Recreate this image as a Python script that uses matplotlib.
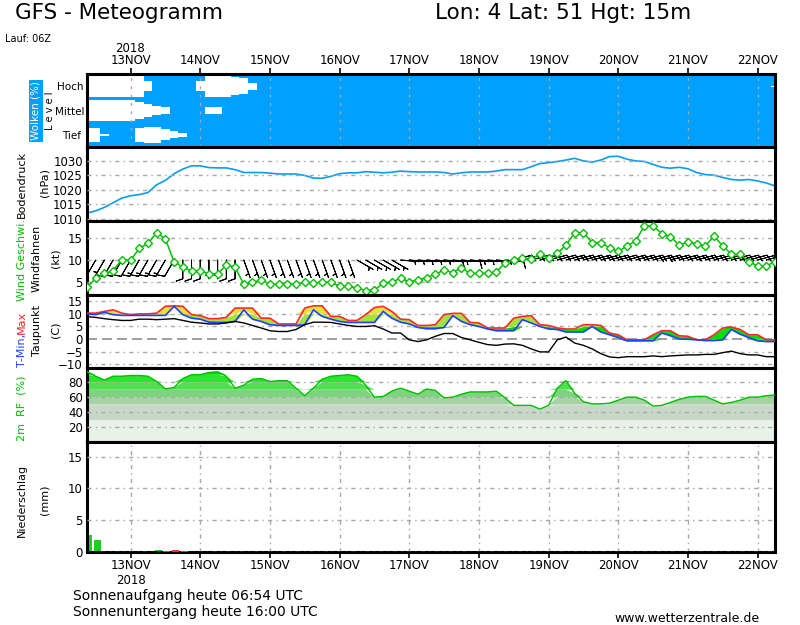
import numpy as np
import matplotlib
matplotlib.use('Agg')
import matplotlib.pyplot as plt

plt.rcParams['font.family'] = ['DejaVu Sans']

# ---------------- data ----------------
# forecast hours since run start (12 Nov 2018 06Z), 3-hourly
forecast_hours = np.arange(3, 243, 3)
day_hours = [18, 42, 66, 90, 114, 138, 162, 186, 210, 234]
day_labels = ['13NOV', '14NOV', '15NOV', '16NOV', '17NOV',
              '18NOV', '19NOV', '20NOV', '21NOV', '22NOV']

cloud_high = [90, 90, 90, 90, 90, 85, 90, 40, 0, 0, 0, 0, 0, 40, 90, 90, 90, 75, 65, 30] + [0] * 59 + [5]
cloud_mid = [85, 85, 85, 88, 90, 88, 70, 50, 35, 30, 0, 0, 0, 0, 25, 25] + [0] * 64
cloud_low = [55, 55, 10, 0, 0, 0, 60, 65, 65, 45, 30, 15] + [0] * 68

pressure = [1012.0, 1012.8, 1014.0, 1015.6, 1017.2, 1018.0, 1018.4, 1019.1, 1021.8, 1023.3,
            1025.6, 1027.2, 1028.3, 1028.3, 1027.7, 1027.6, 1027.6, 1027.0, 1026.0, 1026.0,
            1026.0, 1025.8, 1025.5, 1025.5, 1025.5, 1025.0, 1024.1, 1024.0, 1024.7, 1025.6,
            1025.9, 1025.9, 1026.3, 1026.1, 1025.9, 1026.1, 1026.5, 1026.3, 1026.2, 1026.2,
            1026.2, 1026.0, 1025.5, 1025.9, 1026.2, 1026.2, 1026.2, 1026.5, 1027.0, 1027.0,
            1027.0, 1028.0, 1029.1, 1029.4, 1029.8, 1030.3, 1030.9, 1030.0, 1029.6, 1030.3,
            1031.5, 1031.6, 1030.6, 1030.0, 1029.8, 1028.8, 1027.8, 1027.5, 1027.8, 1027.3,
            1026.0, 1025.3, 1025.1, 1024.3, 1023.6, 1023.4, 1023.6, 1023.1, 1022.4, 1021.4]

wind_speed = [3.9, 5.9, 7.0, 7.6, 10.1, 9.9, 12.6, 13.7, 16.1, 14.7,
              9.6, 8.4, 7.6, 7.6, 6.9, 6.9, 8.9, 8.4, 4.6, 5.0,
              5.6, 4.6, 4.6, 4.6, 4.6, 5.0, 4.8, 5.1, 5.0, 4.2,
              4.1, 3.8, 3.2, 3.3, 4.8, 5.1, 5.9, 5.2, 5.5, 6.1,
              6.8, 7.8, 7.2, 8.3, 7.0, 7.0, 7.0, 7.4, 9.3, 10.1,
              10.4, 10.2, 11.3, 10.5, 11.5, 13.3, 16.1, 16.1, 13.9, 13.9,
              12.7, 11.9, 13.1, 14.3, 17.6, 17.6, 15.9, 15.2, 13.3, 14.1,
              13.6, 13.1, 15.4, 13.1, 11.3, 11.3, 9.6, 8.7, 8.7, 9.6]
wind_dir = [210] * 11 + [180] * 7 + [160] * 13 + [120] * 5 + [95] * 13 + [75] * 31

t_max = [10.3, 10.3, 11.0, 11.6, 10.3, 9.7, 10.0, 10.0, 10.3, 13.0,
         13.2, 13.0, 9.7, 9.3, 8.1, 8.1, 8.6, 12.3, 12.3, 12.3,
         8.3, 8.3, 6.0, 6.0, 6.0, 12.3, 13.2, 13.2, 9.0, 9.0,
         7.4, 7.4, 9.7, 12.5, 13.0, 11.0, 7.9, 7.7, 5.4, 5.4,
         5.7, 9.7, 10.2, 10.2, 6.6, 6.4, 4.4, 4.4, 4.4, 8.3,
         9.0, 9.3, 5.7, 5.4, 4.4, 4.0, 4.0, 5.7, 5.7, 5.4,
         2.4, 1.7, -0.3, -0.3, -0.3, 1.7, 3.3, 3.3, 1.3, 1.1,
         -0.3, -0.3, 1.7, 4.4, 4.8, 3.8, 1.7, 1.7, -0.3, -0.3]
t_min = [10.0, 9.7, 10.6, 9.7, 9.4, 9.4, 9.4, 9.4, 9.4, 9.4,
         13.0, 9.7, 8.3, 7.9, 6.7, 6.6, 6.6, 7.0, 11.6, 7.9,
         7.0, 5.7, 5.4, 5.4, 5.4, 5.7, 11.6, 9.0, 7.9, 7.0,
         6.6, 6.6, 6.6, 6.6, 11.0, 8.3, 6.7, 6.0, 4.6, 4.1,
         4.1, 4.6, 9.3, 7.0, 5.7, 5.0, 4.0, 3.3, 3.3, 3.3,
         7.7, 6.4, 5.0, 4.0, 3.8, 2.8, 2.8, 2.8, 5.0, 2.8,
         1.7, 0.6, -0.7, -0.7, -0.7, -0.7, 2.4, 1.3, 0.0, -0.1,
         -0.3, -0.6, -0.6, -0.3, 3.8, 1.9, 0.6, -0.7, -1.0, -1.0]
dew_point = [8.9, 8.6, 8.1, 7.7, 7.4, 7.4, 7.9, 7.9, 7.7, 7.9,
             8.1, 7.4, 6.7, 6.4, 6.0, 6.0, 6.4, 7.0, 6.4, 5.4,
             4.4, 3.3, 3.0, 3.0, 3.8, 5.7, 6.7, 6.7, 6.6, 6.0,
             5.4, 5.0, 5.0, 5.3, 4.0, 2.4, 2.4, -0.3, -1.0, -0.3,
             1.1, 2.2, 2.2, 0.6, -0.3, -1.3, -2.2, -2.5, -2.0, -1.9,
             -2.5, -3.9, -5.1, -5.1, -0.3, 0.8, -1.6, -2.5, -3.9, -5.8,
             -7.1, -7.4, -7.0, -7.0, -7.0, -6.7, -7.0, -6.7, -6.5, -6.3,
             -6.3, -6.1, -6.1, -5.4, -4.8, -5.8, -6.3, -6.3, -7.0, -7.0]

rel_hum = [94, 88, 83, 88, 88, 89, 89, 88, 81, 71,
           73, 85, 90, 90, 93, 94, 88, 72, 76, 84,
           85, 81, 82, 82, 72, 62, 72, 84, 88, 89,
           90, 88, 76, 60, 61, 68, 72, 68, 64, 71,
           69, 59, 60, 64, 67, 67, 67, 68, 59, 49,
           49, 49, 44, 49, 72, 82, 65, 54, 51, 51,
           52, 56, 60, 60, 56, 48, 49, 53, 57, 60,
           61, 61, 56, 51, 53, 56, 60, 60, 62, 63]

precip_total = [2.6, 1.85, 0, 0, 0, 0, 0, 0, 0.3, 0.05, 0.3, 0.05] + [0] * 68
precip_conv = [0, 0, 0, 0, 0, 0, 0, 0, 0, 0.1, 0.3, 0.1] + [0] * 68

# ---------------- layout ----------------
W, H = 800, 625
fig = plt.figure(figsize=(W / 100, H / 100), dpi=100)
fig.patch.set_facecolor('white')

def box(top, bottom):
    return [87 / W, 1 - bottom / H, 688 / W, (bottom - top) / H]

def P(x, y):
    return x / W, 1 - y / H

ax_c = fig.add_axes(box(74, 147))
ax_p = fig.add_axes(box(147, 221))
ax_w = fig.add_axes(box(221, 295))
ax_t = fig.add_axes(box(295, 368))
ax_r = fig.add_axes(box(368, 442))
ax_n = fig.add_axes(box(442, 552))
axes = [ax_c, ax_p, ax_w, ax_t, ax_r, ax_n]

grid_kw = dict(color='#A8A8A8', linewidth=1.0, linestyle=(0, (3, 3, 1, 3)))
x = forecast_hours

for ax in axes:
    ax.set_xlim(3, 240)
    ax.set_xticks(day_hours)
    ax.tick_params(axis='both', length=0, labelsize=8.5, pad=3)
    ax.tick_params(axis='x', labelbottom=False)
    for s in ax.spines.values():
        s.set_linewidth(2.2)
        s.set_color('black')
    ax.set_axisbelow(False)

# ---- clouds ----
ax_c.set_facecolor('#00A0FF')
ax_c.set_ylim(0, 3)
ax_c.set_yticks([])
for center, cov in [(2.5, cloud_high), (1.5, cloud_mid), (0.5, cloud_low)]:
    c = np.array(cov) / 100.0 * 0.5
    ax_c.fill_between(x, center - c, center + c, step='mid', color='white', lw=0)
for h in day_hours:
    ax_c.axvline(h, color='#A8A8A8', lw=1.0, linestyle=(0, (2, 4)), zorder=3)
ax_c.xaxis.tick_top()
ax_c.tick_params(axis='x', top=True, labeltop=True, length=4, width=1.2,
                 direction='out', labelsize=8.5, pad=1)
ax_c.set_xticklabels(day_labels)

# ---- pressure ----
ax_p.set_ylim(1009.3, 1034.8)
ax_p.set_yticks([1010, 1015, 1020, 1025, 1030])
ax_p.yaxis.grid(True, **grid_kw)
ax_p.plot(x, pressure, color='#0A9CF0', lw=1.2)

# ---- wind ----
ax_w.set_ylim(2.2, 18.7)
ax_w.set_yticks([5, 10, 15])
ax_w.yaxis.grid(True, **grid_kw)
spd = np.array(wind_speed)
dr = np.deg2rad(np.array(wind_dir))
u = -spd * np.sin(dr)
v = -spd * np.cos(dr)
ax_w.barbs(x, np.full(len(x), 10.0), u, v, length=5.2, linewidth=0.7,
           color='black', sizes=dict(emptybarb=0.0, height=0.35, spacing=0.16),
           zorder=3)
ax_w.plot(x, wind_speed, color='#00C000', lw=1.1, marker='D', ms=4.5,
          mfc='white', mec='#00C000', mew=1.0, zorder=4)

# ---- temperature ----
ax_t.set_ylim(-11.5, 17.5)
ax_t.set_yticks([-10, -5, 0, 5, 10, 15])
for yv in [-10, -5, 5, 10, 15]:
    ax_t.axhline(yv, **grid_kw, zorder=0)
ax_t.axhline(0, color='#909090', lw=1.2, linestyle=(0, (6, 3)), zorder=0)
tmin = np.array(t_min)
tmax = np.array(t_max)
for lo, hi, col in [(-30, 0, '#00DD00'), (0, 5, '#00DD00'), (5, 10, '#A2E23C'), (10, 40, '#E6E23C')]:
    ax_t.fill_between(x, np.clip(tmin, lo, hi), np.clip(tmax, lo, hi), color=col, lw=0, zorder=1)
ax_t.plot(x, t_max, color='#FF2828', lw=1.2, zorder=3)
ax_t.plot(x, t_min, color='#2040FF', lw=1.2, zorder=3)
ax_t.plot(x, dew_point, color='black', lw=1.0, zorder=3)

# ---- relative humidity ----
ax_r.set_ylim(0, 99)
ax_r.set_yticks([20, 40, 60, 80])
rh = np.array(rel_hum, dtype=float)
for lo, hi, col in [(0, 30, '#E8F2E8'), (30, 50, '#C8D8C8'), (50, 60, '#A6D2A6'),
                    (60, 70, '#7ED47E'), (70, 80, '#52DE52'), (80, 90, '#2EE42E'),
                    (90, 100, '#00D800')]:
    ax_r.fill_between(x, lo, np.clip(rh, lo, hi), where=rh > lo, interpolate=True,
                      color=col, lw=0, zorder=1)
ax_r.yaxis.grid(True, **grid_kw)
ax_r.plot(x, rel_hum, color='#00C000', lw=1.0, zorder=3)

# ---- precipitation ----
ax_n.set_ylim(0, 17.3)
ax_n.set_yticks([0, 5, 10, 15])
ax_n.yaxis.grid(True, **grid_kw)
for h in day_hours:
    ax_n.axvline(h, **grid_kw, zorder=0)
bar_x = x + 0.5
ax_n.bar(bar_x, precip_total, width=2.4, color='#22CC22', zorder=2)
ax_n.bar(bar_x, precip_conv, width=2.4, color='#FF3030', zorder=3)
ax_n.tick_params(axis='x', labelbottom=True, bottom=True, length=4, width=1.2,
                 direction='out', labelsize=8.5, pad=1)
ax_n.set_xticklabels([day_labels[0] + '\n2018'] + day_labels[1:])

# ---------------- texts ----------------
fig.text(*P(15, 13), 'GFS - Meteogramm', fontsize=15.5, va='center', ha='left')
fig.text(*P(435, 13), 'Lon: 4 Lat: 51 Hgt: 15m', fontsize=15.5, va='center', ha='left')
fig.text(*P(5, 39), 'Lauf: 06Z', fontsize=7, va='center', ha='left')
fig.text(*P(130, 49), '2018', fontsize=8.5, va='center', ha='center')

fig.text(*P(36, 111), 'Wolken (%)', fontsize=7.5, rotation=90, va='center', ha='center',
         color='white', bbox=dict(facecolor='#00A0FF', edgecolor='none', pad=1.2))
fig.text(*P(50, 111), 'L e v e l', fontsize=7, rotation=90, va='center', ha='center')
fig.text(*P(84, 87), 'Hoch', fontsize=7.5, va='center', ha='right')
fig.text(*P(85, 112), 'Mittel', fontsize=7.5, va='center', ha='right')
fig.text(*P(81, 136), 'Tief', fontsize=7.5, va='center', ha='right')

fig.text(*P(22, 184), 'Bodendruck', fontsize=8, rotation=90, va='center', ha='center')
fig.text(*P(45, 183), '(hPa)', fontsize=8, rotation=90, va='center', ha='center')

fig.text(*P(22, 260), 'Wind Geschwi.', fontsize=8, rotation=90, va='center', ha='center', color='#00C000')
fig.text(*P(37, 258), 'Windfahnen', fontsize=8, rotation=90, va='center', ha='center')
fig.text(*P(55, 258), '(kt)', fontsize=8, rotation=90, va='center', ha='center')

fig.text(*P(22, 350), 'T-Min,', fontsize=8, rotation=90, va='center', ha='center', color='#2040FF')
fig.text(*P(22, 322), 'Max', fontsize=8, rotation=90, va='center', ha='center', color='#FF2020')
fig.text(*P(37, 330), 'Taupunkt', fontsize=8, rotation=90, va='center', ha='center')
fig.text(*P(55, 330), '(C)', fontsize=8, rotation=90, va='center', ha='center')

fig.text(*P(22, 408), '2m  RF  (%)', fontsize=8, rotation=90, va='center', ha='center', color='#00C000')

fig.text(*P(22, 500), 'Niederschlag', fontsize=8, rotation=90, va='center', ha='center')
fig.text(*P(45, 500), '(mm)', fontsize=8, rotation=90, va='center', ha='center')

fig.text(*P(73, 596), 'Sonnenaufgang heute 06:54 UTC', fontsize=10, va='center', ha='left')
fig.text(*P(73, 612), 'Sonnenuntergang heute 16:00 UTC', fontsize=10, va='center', ha='left')
fig.text(*P(760, 619), 'www.wetterzentrale.de', fontsize=9, va='center', ha='right')

fig.savefig('out.png', dpi=100)
